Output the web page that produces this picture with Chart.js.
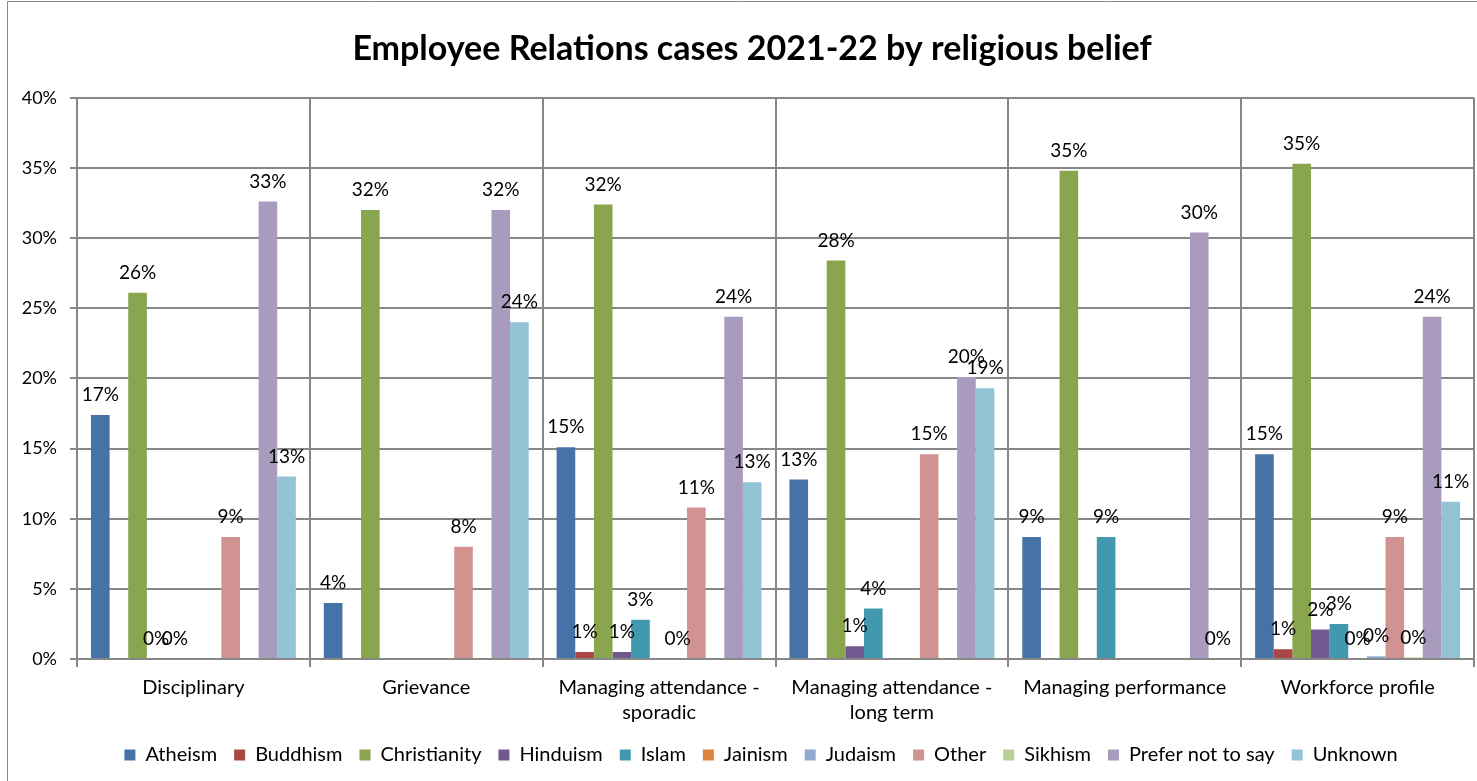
<!DOCTYPE html>
<html>
<head>
<meta charset="utf-8">
<title>Employee Relations cases 2021-22 by religious belief</title>
<script src="https://cdn.jsdelivr.net/npm/chart.js@4/dist/chart.umd.min.js"></script>
<style>
  body { margin: 0; background: #fff; }
  #wrap { position: relative; width: 1477px; height: 781px; }
</style>
</head>
<body>
<div id="wrap"><canvas id="er-chart"></canvas></div>
<script>
// categories along the x axis
const categories = [
  'Disciplinary',
  'Grievance',
  ['Managing attendance -', 'sporadic'],
  ['Managing attendance -', 'long term'],
  'Managing performance',
  'Workforce profile'
];

// percentage of cases per belief (null = no bar, no label)
const atheism      = [17.4, 4.0, 15.1, 12.8, 8.7, 14.6];
const buddhism     = [null, null, 0.5, null, null, 0.7];
const christianity = [26.1, 32.0, 32.4, 28.4, 34.8, 35.3];
const hinduism     = [0, null, 0.5, 0.9, null, 2.1];
const islam        = [0, null, 2.8, 3.6, 8.7, 2.5];
const jainism      = [null, null, null, null, null, 0];
const judaism      = [null, null, 0, null, null, 0.2];
const other        = [8.7, 8.0, 10.8, 14.6, null, 8.7];
const sikhism      = [null, null, null, null, null, 0.1];
const preferNot    = [32.6, 32.0, 24.4, 20.1, 30.4, 24.4];
const unknown      = [13.0, 24.0, 12.6, 19.3, 0, 11.2];

const yTicks = [0, 5, 10, 15, 20, 25, 30, 35, 40];

const font = 'Lato, "Noto Sans", sans-serif';

const mkSet = (label, data, colour) => ({
  label: label,
  data: data,
  backgroundColor: colour,
  borderWidth: 0
});

// value labels above the bars
const valueLabels = {
  id: 'valueLabels',
  afterDatasetsDraw(chart) {
    const ctx = chart.ctx;
    ctx.save();
    ctx.font = '19px ' + font;
    ctx.fillStyle = '#000';
    ctx.textAlign = 'center';
    ctx.textBaseline = 'middle';
    chart.data.datasets.forEach((ds, i) => {
      const meta = chart.getDatasetMeta(i);
      meta.data.forEach((bar, j) => {
        const v = ds.data[j];
        if (v === null || v === undefined) return;
        ctx.fillText(Math.round(v) + '%', bar.x, bar.y - 20);
      });
    });
    ctx.restore();
  }
};

// white background, the chart frame, and title/legend nudged right like the original
const frame = {
  id: 'frame',
  afterLayout(chart) {
    chart.titleBlock.left += 15;
    chart.titleBlock.right += 15;
    chart.legend.left += 24;
    chart.legend.right += 24;
  },
  beforeDraw(chart) {
    const ctx = chart.ctx;
    ctx.save();
    ctx.fillStyle = '#fff';
    ctx.fillRect(0, 0, chart.width, chart.height);
    ctx.strokeStyle = '#888';
    ctx.lineWidth = 1;
    ctx.beginPath();
    ctx.moveTo(7.5, chart.height);
    ctx.lineTo(7.5, 1.5);
    ctx.lineTo(chart.width, 1.5);
    ctx.stroke();
    ctx.restore();
  }
};

const ctx = document.getElementById('er-chart').getContext('2d');
const chart = new Chart(ctx, {
  type: 'bar',
  data: {
    labels: categories,
    datasets: [
      mkSet('Atheism', atheism, '#4572A7'),
      mkSet('Buddhism', buddhism, '#AA4643'),
      mkSet('Christianity', christianity, '#89A54E'),
      mkSet('Hinduism', hinduism, '#71588F'),
      mkSet('Islam', islam, '#4198AF'),
      mkSet('Jainism', jainism, '#DB843D'),
      mkSet('Judaism', judaism, '#93A9CF'),
      mkSet('Other', other, '#D19392'),
      mkSet('Sikhism', sikhism, '#B9CD96'),
      mkSet('Prefer not to say', preferNot, '#A99BBD'),
      mkSet('Unknown', unknown, '#93C4D5')
    ]
  },
  options: {
    responsive: true,
    maintainAspectRatio: false,
    animation: false,
    datasets: {
      bar: { categoryPercentage: 0.88, barPercentage: 1 }
    },
    layout: { padding: { left: 0, right: 3, top: 0, bottom: 6 } },
    plugins: {
      tooltip: { enabled: false },
      title: {
        display: true,
        text: 'Employee Relations cases 2021-22 by religious belief',
        color: '#000',
        font: { family: font, size: 34, weight: 'bold', lineHeight: 1.2 },
        padding: { top: 29, bottom: 28 }
      },
      legend: {
        position: 'bottom',
        labels: {
          color: '#000',
          font: { family: font, size: 20 },
          boxWidth: 11,
          boxHeight: 11,
          padding: 17
        }
      }
    },
    scales: {
      x: {
        afterFit(scale) { scale.height = scale.height - 5; },
        grid: {
          offset: true,
          color: '#878787',
          lineWidth: 2,
          tickLength: 8,
          tickColor: '#878787'
        },
        border: { color: '#878787', width: 2 },
        ticks: {
          color: '#000',
          font: { family: font, size: 20, lineHeight: 1.25 },
          padding: 8,
          maxRotation: 0,
          autoSkip: false
        }
      },
      y: {
        min: 0,
        max: 40,
        afterFit(scale) { scale.width = 77; },
        afterBuildTicks(scale) { scale.ticks = yTicks.map(v => ({ value: v })); },
        grid: {
          color: '#878787',
          lineWidth: 2,
          tickLength: 7,
          tickColor: '#878787'
        },
        border: { color: '#878787', width: 2 },
        ticks: {
          color: '#000',
          font: { family: font, size: 18 },
          padding: 13,
          callback: (v) => v + '%'
        }
      }
    }
  },
  plugins: [frame, valueLabels]
});
</script>
</body>
</html>
